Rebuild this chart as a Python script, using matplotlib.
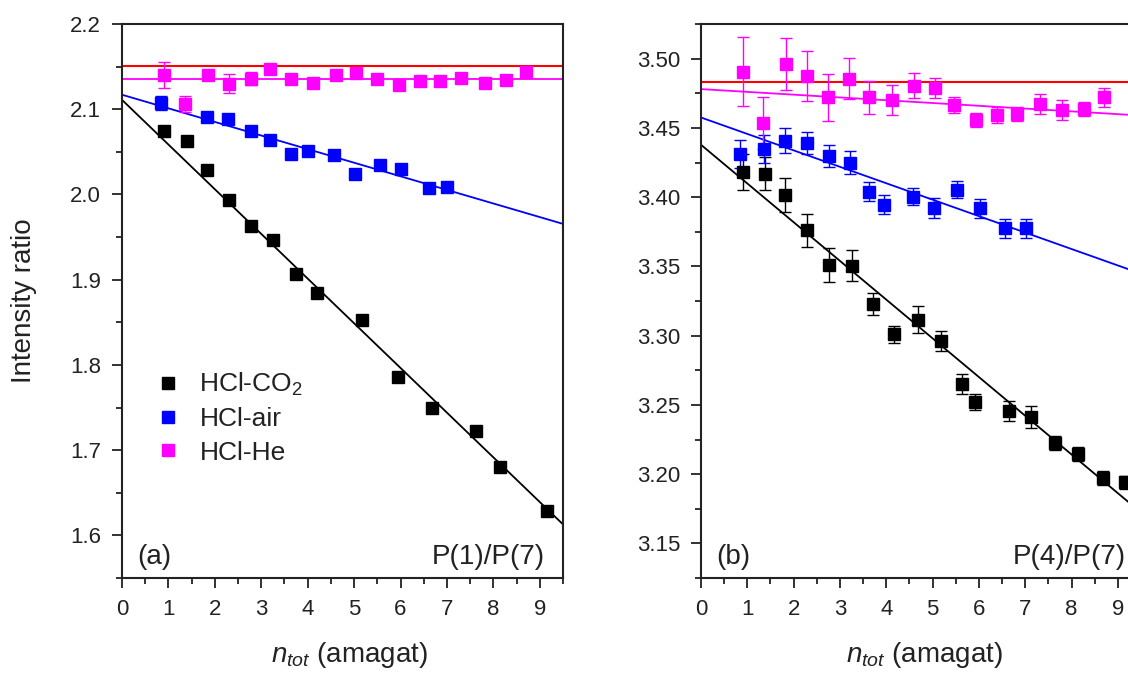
import numpy as np
import matplotlib
matplotlib.use('Agg')
import matplotlib.pyplot as plt
from matplotlib.ticker import MultipleLocator, FormatStrFormatter

plt.rcParams['font.family'] = ['Liberation Sans', 'DejaVu Sans']
plt.rcParams['mathtext.fontset'] = 'custom'
plt.rcParams['mathtext.rm'] = 'Liberation Sans'
plt.rcParams['mathtext.it'] = 'Liberation Sans:italic'

# ---- panel (a): P(1)/P(7) ----
a_co2_x = [0.91, 1.40, 1.84, 2.30, 2.78, 3.26, 3.75, 4.20, 5.18, 5.94, 6.68, 7.63, 8.15, 9.16]
a_co2_y = [2.075, 2.063, 2.029, 1.994, 1.963, 1.947, 1.907, 1.884, 1.853, 1.786, 1.750, 1.722, 1.680, 1.629]
a_co2_e = [0.004, 0.004, 0.004, 0.004, 0.004, 0.004, 0.004, 0.004, 0.004, 0.004, 0.004, 0.004, 0.004, 0.004]

a_air_x = [0.83, 1.84, 2.29, 2.77, 3.19, 3.63, 4.00, 4.57, 5.02, 5.56, 6.02, 6.61, 7.00]
a_air_y = [2.107, 2.091, 2.088, 2.075, 2.064, 2.048, 2.051, 2.046, 2.024, 2.034, 2.030, 2.008, 2.009]
a_air_e = [0.008, 0.004, 0.004, 0.004, 0.004, 0.004, 0.004, 0.004, 0.004, 0.004, 0.004, 0.004, 0.004]

a_he_x = [0.91, 1.36, 1.85, 2.30, 2.77, 3.19, 3.64, 4.12, 4.62, 5.05, 5.50, 5.97, 6.41, 6.86, 7.31, 7.81, 8.28, 8.71]
a_he_y = [2.140, 2.106, 2.140, 2.130, 2.136, 2.147, 2.136, 2.131, 2.140, 2.142, 2.135, 2.129, 2.133, 2.133, 2.137, 2.131, 2.134, 2.144]
a_he_e = [0.015, 0.009, 0.006, 0.011, 0.008, 0.005, 0.004, 0.004, 0.005, 0.005, 0.004, 0.004, 0.004, 0.004, 0.004, 0.004, 0.004, 0.005]

# fitted lines: (intercept, slope)
a_fit_co2 = (2.111, -0.05243)
a_fit_air = (2.117, -0.01595)
a_fit_he = (2.1356, 0.0)
a_ref = 2.151

# ---- panel (b): P(4)/P(7) ----
b_co2_x = [0.90, 1.39, 1.82, 2.29, 2.77, 3.25, 3.72, 4.17, 4.68, 5.18, 5.64, 5.91, 6.66, 7.13, 7.65, 8.13, 8.67, 9.16]
b_co2_y = [3.418, 3.417, 3.4016, 3.376, 3.351, 3.3506, 3.323, 3.301, 3.3115, 3.296, 3.265, 3.252, 3.2457, 3.241, 3.2226, 3.2143, 3.197, 3.194]
b_co2_e = [0.013, 0.012, 0.012, 0.012, 0.012, 0.011, 0.008, 0.006, 0.0096, 0.007, 0.007, 0.006, 0.007, 0.008, 0.005, 0.005, 0.005, 0.005]

b_air_x = [0.85, 1.35, 1.82, 2.29, 2.77, 3.22, 3.63, 3.96, 4.57, 5.02, 5.53, 6.03, 6.57, 7.01]
b_air_y = [3.431, 3.435, 3.4407, 3.439, 3.4294, 3.425, 3.404, 3.3946, 3.4004, 3.3922, 3.4054, 3.392, 3.3775, 3.3775]
b_air_e = [0.010, 0.010, 0.009, 0.008, 0.008, 0.008, 0.007, 0.007, 0.006, 0.007, 0.006, 0.007, 0.007, 0.007]

b_he_x = [0.90, 1.34, 1.84, 2.29, 2.74, 3.19, 3.63, 4.12, 4.60, 5.05, 5.47, 5.93, 6.39, 6.82, 7.31, 7.79, 8.27, 8.71]
b_he_y = [3.4906, 3.4535, 3.496, 3.4875, 3.472, 3.4856, 3.472, 3.4703, 3.4803, 3.4787, 3.4664, 3.4558, 3.4592, 3.460, 3.4672, 3.4628, 3.4635, 3.472]
b_he_e = [0.025, 0.019, 0.019, 0.018, 0.017, 0.015, 0.012, 0.011, 0.009, 0.007, 0.006, 0.005, 0.006, 0.005, 0.007, 0.007, 0.005, 0.007]

b_fit_co2 = (3.4378, -0.02795)
b_fit_air = (3.4575, -0.01187)
b_fit_he = (3.478, -0.00201)
b_ref = 3.4834

labels = ['HCl-CO$_2$', 'HCl-air', 'HCl-He']
colors = ['black', '#0000ff', '#ff00ff']
xmax = 9.5
txt = '#222222'

fig = plt.figure(figsize=(11.28, 6.73), dpi=100)
ax1 = fig.add_axes([122/1128, 95/673, 441/1128, 554/673])
ax2 = fig.add_axes([701/1128, 95/673, 440/1128, 554/673])

def panel(ax, series, fits, ref, ylim, major, minor, fmt):
    xx = np.array([0, xmax])
    ax.axhline(ref, color='#ff0000', lw=1.5, zorder=1)
    for (x, y, e), fit, c, lab in zip(series, fits, colors, labels):
        ax.plot(xx, fit[0] + fit[1]*xx, color=c, lw=1.3, zorder=2)
        ax.errorbar(x, y, yerr=e, fmt='none', ecolor=c, elinewidth=1, capsize=4, capthick=1, zorder=3)
        ax.plot(x, y, 's', color=c, ms=8.5, label=lab, zorder=4)
    ax.set_xlim(0, xmax)
    ax.set_ylim(*ylim)
    ax.xaxis.set_major_locator(MultipleLocator(1))
    ax.xaxis.set_minor_locator(MultipleLocator(0.5))
    ax.yaxis.set_major_locator(MultipleLocator(major))
    ax.yaxis.set_minor_locator(MultipleLocator(minor))
    ax.yaxis.set_major_formatter(FormatStrFormatter(fmt))
    ax.tick_params(which='both', direction='out', width=1.3, labelsize=16, colors=txt, top=False, right=False)
    ax.tick_params(which='major', length=7, pad=8)
    ax.tick_params(which='minor', length=4)
    for s in ax.spines.values():
        s.set_linewidth(1.5)
        s.set_color(txt)

panel(ax1, [(a_co2_x, a_co2_y, a_co2_e), (a_air_x, a_air_y, a_air_e), (a_he_x, a_he_y, a_he_e)],
      [a_fit_co2, a_fit_air, a_fit_he], a_ref, (1.55, 2.2), 0.1, 0.05, '%.1f')
panel(ax2, [(b_co2_x, b_co2_y, b_co2_e), (b_air_x, b_air_y, b_air_e), (b_he_x, b_he_y, b_he_e)],
      [b_fit_co2, b_fit_air, b_fit_he], b_ref, (3.125, 3.525), 0.05, 0.025, '%.2f')

leg = ax1.legend(loc='upper left', bbox_to_anchor=(0.062, 0.393), frameon=False, fontsize=19,
                 handlelength=0.6, handletextpad=0.9, labelspacing=0.35, borderaxespad=0)
for t in leg.get_texts():
    t.set_color(txt)

ax1.text(0.035, 0.015, '(a)', transform=ax1.transAxes, fontsize=20, ha='left', va='bottom', color=txt)
ax1.text(0.96, 0.015, 'P(1)/P(7)', transform=ax1.transAxes, fontsize=20, ha='right', va='bottom', color=txt)
ax2.text(0.035, 0.015, '(b)', transform=ax2.transAxes, fontsize=20, ha='left', va='bottom', color=txt)
ax2.text(0.965, 0.015, 'P(4)/P(7)', transform=ax2.transAxes, fontsize=20, ha='right', va='bottom', color=txt)

fig.text(24/1128, 1 - 301/673, 'Intensity ratio', rotation=90, ha='center', va='center', fontsize=20, color=txt)
fig.text(349/1128, 1 - 655/673, r'$n_{tot}$ (amagat)', ha='center', va='center', fontsize=20, color=txt)
fig.text(924/1128, 1 - 655/673, r'$n_{tot}$ (amagat)', ha='center', va='center', fontsize=20, color=txt)

fig.savefig('out.png', dpi=100)
